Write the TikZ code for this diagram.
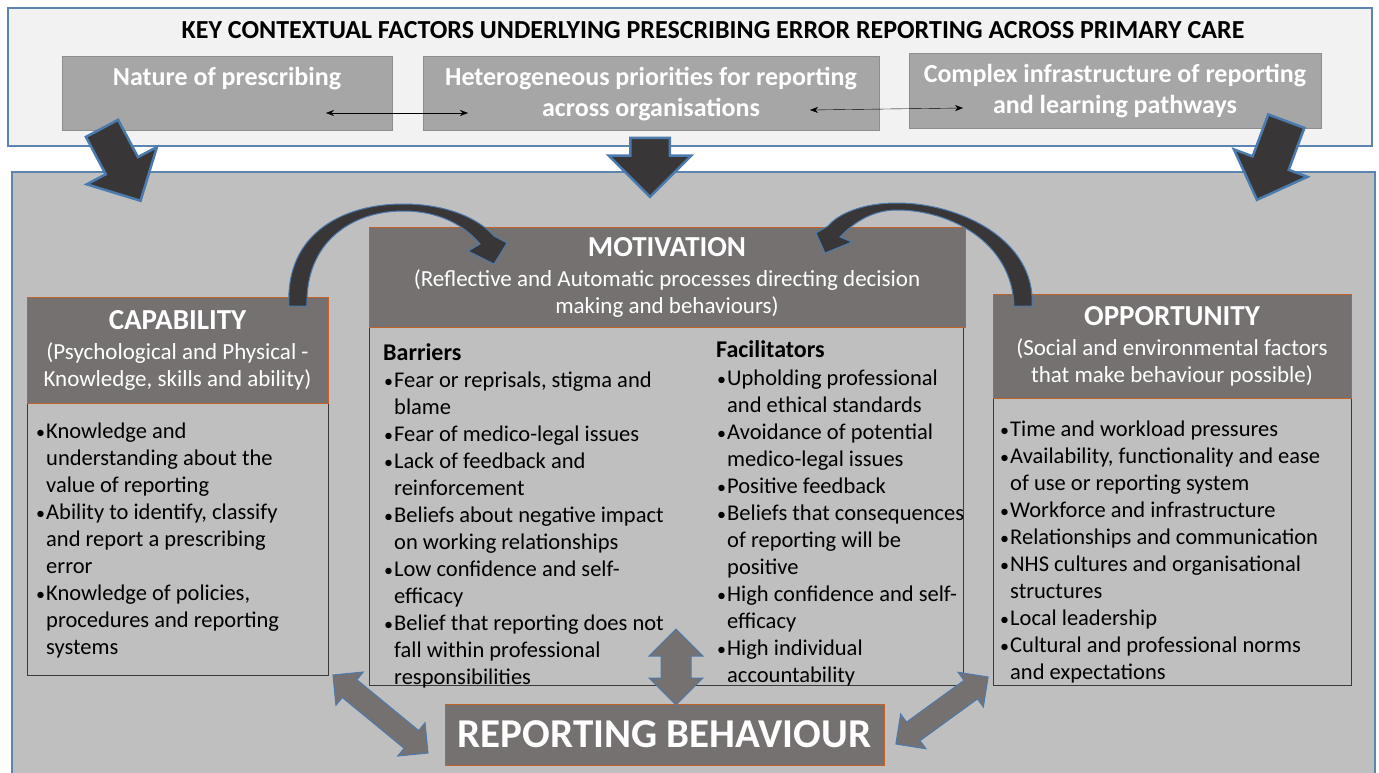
\documentclass[tikz,border=0pt]{standalone}
\usepackage{fontspec}
\setmainfont{Carlito}
\usetikzlibrary{shapes.arrows,positioning,arrows.meta}

\definecolor{topfill}{HTML}{F2F2F2}
\definecolor{frameblue}{HTML}{5B84B1}
\definecolor{factorfill}{HTML}{A6A6A6}
\definecolor{factorline}{HTML}{8E8E8E}
\definecolor{panelfill}{HTML}{BFBFBF}
\definecolor{headfill}{HTML}{767171}
\definecolor{headline}{HTML}{C0622A}
\definecolor{listline}{HTML}{3A3A3A}
\definecolor{arrowdark}{HTML}{383636}
\definecolor{arrowblue}{HTML}{4A7AAE}

\newcommand{\bul}{\makebox[11pt][l]{\hspace{1pt}\scalebox{0.8}{\textbullet}}}
\newcommand{\ind}{\hspace*{11pt}}

\begin{document}
\begin{tikzpicture}[x=1pt, y=-1pt,
  frame/.style={draw=frameblue, line width=1.5, inner sep=0},
  factorbox/.style={draw=factorline, fill=factorfill, line width=1, inner sep=0},
  factortext/.style={text=white, font=\fontsize{26}{31}\selectfont\bfseries, align=center, inner sep=0},
  headbox/.style={draw=headline, fill=headfill, line width=1, text=white, align=center, inner sep=0, font=\fontsize{23}{27}\selectfont},
  listbox/.style={draw=listline, line width=1, inner sep=0},
  listtext/.style={align=left, inner sep=0, anchor=north west, font=\fontsize{22.5}{27}\selectfont},
  bigarrow/.style={single arrow, draw=arrowblue, fill=arrowdark, line width=2.5, inner sep=0, single arrow tip angle=90},
  linkarrow/.style={double arrow, draw=arrowblue, fill=headfill, line width=1, inner sep=0, double arrow tip angle=90},
  curvearrow/.style={draw=arrowblue, fill=arrowdark, line width=1}]

\useasboundingbox (0,0) rectangle (1379,772);

% contextual factors
\node (context) [frame, fill=topfill, minimum width=1364, minimum height=138] at (690,77) {};
\node (title) [font=\fontsize{26}{30}\selectfont\bfseries] at (713,30) {KEY CONTEXTUAL FACTORS UNDERLYING PRESCRIBING ERROR REPORTING ACROSS PRIMARY CARE};

\node (nature) [factorbox, minimum width=330, minimum height=74] at (227,93) {};
\node (hetero) [factorbox, minimum width=456, minimum height=74] at (651,93) {};
\node (complex) [factorbox, minimum width=412, minimum height=75] at (1115,90.5) {};
\node (natureTxt) [factortext, below=12pt of nature.north] {Nature of prescribing};
\node (heteroTxt) [factortext, below=12pt of hetero.north] {Heterogeneous priorities for reporting\\across organisations};
\node (complexTxt) [factortext, below=12pt of complex.north] {Complex infrastructure of reporting\\and learning pathways};

\coordinate (natureLink) at (326,113);
\coordinate (heteroLinkL) at (468,113);
\coordinate (heteroLinkR) at (810,110);
\coordinate (complexLink) at (963,108);
\draw [{Stealth[length=8pt,width=6pt]}-{Stealth[length=8pt,width=6pt]}] (natureLink) -- (heteroLinkL);
\draw [{Stealth[length=8pt,width=6pt]}-{Stealth[length=8pt,width=6pt]}] (heteroLinkR) -- (complexLink);

% main panel
\node (panel) [frame, fill=panelfill, minimum width=1363, minimum height=610] at (693.5,477) {};

\node (arrowNature) [bigarrow, minimum height=82, inner ysep=17, single arrow head extend=21.5, rotate=-62] at (117,156.5) {};
\node (arrowHetero) [bigarrow, minimum height=59, inner ysep=18.5, single arrow head extend=21.5, rotate=-90] at (650,157.5) {};
\node (arrowComplex) [bigarrow, minimum height=84, inner ysep=18, single arrow head extend=20, rotate=-110.5] at (1275,151.5) {};

% capability
\node (capBody) [listbox, minimum width=301, minimum height=272] at (177.5,539) {};
\node (capHead) [headbox, minimum width=301, minimum height=106] at (177.5,350) {{\fontsize{29}{32}\selectfont\bfseries CAPABILITY}\\[3pt](Psychological and Physical -\\Knowledge, skills and ability)};
\node (capList) [listtext] at (35,423) {\bul Knowledge and\\\ind understanding about the\\\ind value of reporting\\\bul Ability to identify, classify\\\ind and report a prescribing\\\ind error\\\bul Knowledge of policies,\\\ind procedures and reporting\\\ind systems};

% motivation
\node (motBody) [listbox, minimum width=594, minimum height=358] at (666,506) {};
\node (motHead) [headbox, minimum width=596, minimum height=100] at (667,277) {{\fontsize{29}{32}\selectfont\bfseries MOTIVATION}\\[3pt](Reflective and Automatic processes directing decision\\making and behaviours)};
\node (barriers) [listtext] at (383,343) {{\fontsize{24}{27}\selectfont\bfseries Barriers}\\[0pt]\bul Fear or reprisals, stigma and\\\ind blame\\\bul Fear of medico-legal issues\\\bul Lack of feedback and\\\ind reinforcement\\\bul Beliefs about negative impact\\\ind on working relationships\\\bul Low confidence and self-\\\ind efficacy\\\bul Belief that reporting does not\\\ind fall within professional\\\ind responsibilities};
\node (facilitators) [listtext] at (716,340) {{\fontsize{24}{27}\selectfont\bfseries Facilitators}\\[1pt]\bul Upholding professional\\\ind and ethical standards\\\bul Avoidance of potential\\\ind medico-legal issues\\\bul Positive feedback\\\bul Beliefs that consequences\\\ind of reporting will be\\\ind positive\\\bul High confidence and self-\\\ind efficacy\\\bul High individual\\\ind accountability};

% opportunity
\node (oppBody) [listbox, minimum width=358, minimum height=287] at (1172,541.5) {};
\node (oppHead) [headbox, minimum width=358, minimum height=104] at (1172,346) {{\fontsize{29}{32}\selectfont\bfseries OPPORTUNITY}\\[3pt](Social and environmental factors\\that make behaviour possible)};
\node (oppList) [listtext] at (999,421) {\bul Time and workload pressures\\\bul Availability, functionality and ease\\\ind of use or reporting system\\\bul Workforce and infrastructure\\\bul Relationships and communication\\\bul NHS cultures and organisational\\\ind structures\\\bul Local leadership\\\bul Cultural and professional norms\\\ind and expectations};

% behaviour
\node (reporting) [headbox, minimum width=439, minimum height=61, font=\fontsize{41}{44}\selectfont\bfseries] at (664.5,734.5) {REPORTING BEHAVIOUR};

\node (linkMot) [linkarrow, minimum height=76, inner ysep=14.5, double arrow head extend=12, rotate=90] at (676,667) {};
\node (linkCap) [linkarrow, minimum height=123, inner ysep=11, double arrow head extend=10, rotate=-39.4] at (380.5,714) {};
\node (linkOpp) [linkarrow, minimum height=114, inner ysep=11, double arrow head extend=10, rotate=36] at (942,710.5) {};

\filldraw [curvearrow] (289,306) .. controls (285,232) and (345,204) .. (403,204) .. controls (446,204) and (478,218) .. (494,236) -- (507,243) -- (494,264) -- (468,251) -- (480,244) .. controls (465,226) and (440,211) .. (403,211) .. controls (352,211) and (305,242) .. (307,306) -- cycle;
\filldraw [curvearrow] (1032,306) .. controls (1036,240) and (960,203) .. (897,203) .. controls (862,203) and (838,214) .. (828,226) -- (816,233) -- (825,253) -- (852,242) -- (840,237) .. controls (855,221) and (874,210) .. (897,210) .. controls (950,210) and (1012,242) .. (1014,306) -- cycle;
\end{tikzpicture}
\end{document}
